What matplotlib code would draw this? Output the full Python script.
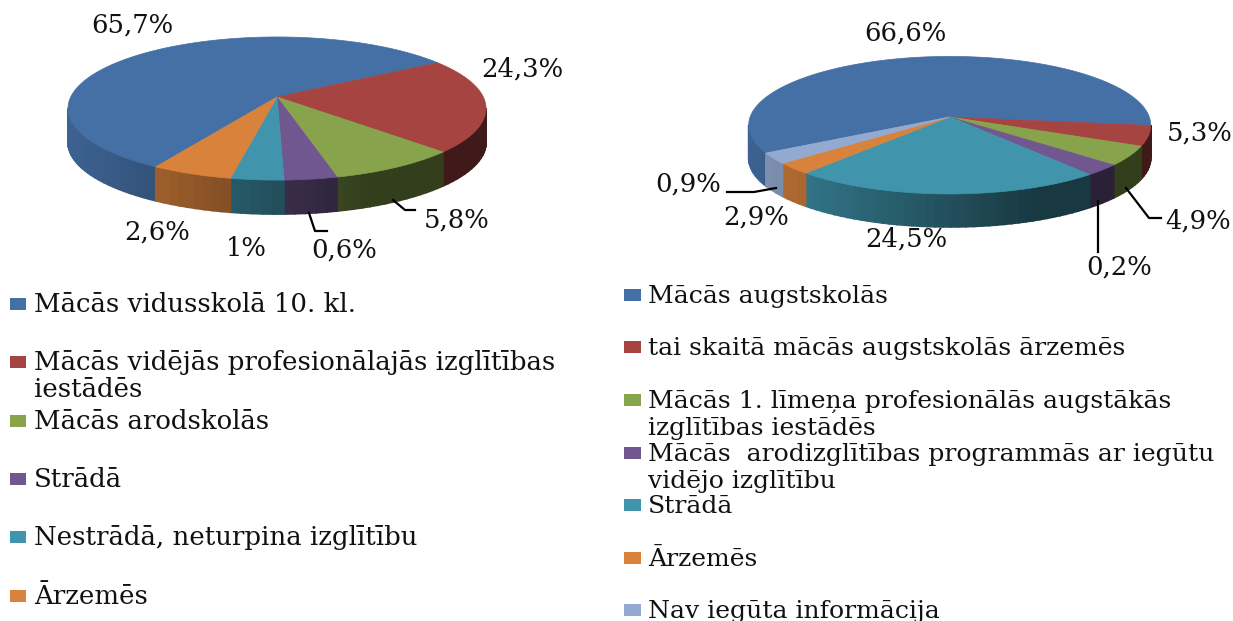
import numpy as np
from matplotlib import pyplot as plt
from matplotlib.colors import to_rgb

# shares as they are drawn in the picture (the printed labels do not match the slice sizes)
left_shares = [57.6, 21.3, 8.7, 3.5, 3.5, 5.4]
left_labels = ['65,7%', '24,3%', '5,8%', '0,6%', '1%', '2,6%']
left_legend = ['Mācās vidusskolā 10. kl.',
               'Mācās vidējās profesionālajās izglītības\niestādēs',
               'Mācās arodskolās',
               'Strādā',
               'Nestrādā, neturpina izglītību',
               'Ārzemēs']

right_shares = [60.3, 4.75, 4.6, 2.7, 22.4, 2.7, 2.55]
right_labels = ['66,6%', '5,3%', '4,9%', '0,2%', '24,5%', '2,9%', '0,9%']
right_legend = ['Mācās augstskolās',
                'tai skaitā mācās augstskolās ārzemēs',
                'Mācās 1. līmeņa profesionālās augstākās\nizglītības iestādēs',
                'Mācās  arodizglītības programmās ar iegūtu\nvidējo izglītību',
                'Strādā',
                'Ārzemēs',
                'Nav iegūta informācija']

colors = ['#4570A5', '#A64442', '#87A44D', '#71578F', '#4095AD', '#D8823C', '#93A9CF']

FONT = 'DejaVu Serif'
W, H = 1233, 621

fig = plt.figure(figsize=(W / 100, H / 100), dpi=100)
ax = fig.add_axes([0, 0, 1, 1])
ax.set_xlim(0, W)
ax.set_ylim(H, 0)
ax.axis('off')


def draw_pie(shares, start, cx, cy, sx, sy, k, depth):
    # flat disc seen in perspective, back edge shrunk by k
    def project(t):
        X, Y = np.cos(t), np.sin(t)
        w = 1 + k * Y
        return cx + sx * X / w, cy - sy * Y / w

    edges = np.radians(start - np.cumsum([0] + list(shares)) * 3.6)
    vis0 = np.pi + np.arcsin(k)
    vis1 = 2 * np.pi - np.arcsin(k)
    half = sx / np.sqrt(1 - k * k)

    # rim first, in small steps so it can be shaded left to right
    for i in range(len(shares)):
        a, b = edges[i], edges[i + 1]
        for off in (-2 * np.pi, 0, 2 * np.pi):
            lo, hi = max(b + off, vis0), min(a + off, vis1)
            if hi <= lo:
                continue
            steps = np.linspace(lo, hi, max(2, int((hi - lo) * 30)))
            for t0, t1 in zip(steps[:-1], steps[1:]):
                x0, y0 = project(t0)
                x1, y1 = project(t1)
                u = ((x0 + x1) / 2 - (cx - half)) / (2 * half)
                f = max(0.38, 0.88 - 0.7 * u)
                rgb = np.array(to_rgb(colors[i])) * f
                ax.fill([x0, x1, x1, x0], [y0, y1, y1 + depth, y0 + depth],
                        color=rgb, lw=1.2, zorder=2)

    # top face
    for i in range(len(shares)):
        t = np.linspace(edges[i], edges[i + 1], 200)
        x, y = project(t)
        ax.fill(np.r_[cx, x], np.r_[cy, y], color=colors[i], lw=0.5, zorder=3)


draw_pie(left_shares, 239.6, 277, 97, 206.3, 69.7, 0.161, 34)
draw_pie(right_shares, 210, 949.7, 117, 199.6, 67.8, 0.119, 33)

# data labels
left_pos = [(132, 25), (522, 69), (457, 220), (344, 250), (246, 248), (157, 232)]
right_pos = [(905, 33), (1200, 133), (1198, 221), (1119, 267), (906, 239), (756, 217), (688, 184)]
for labels, pos in ((left_labels, left_pos), (right_labels, right_pos)):
    for s, (x, y) in zip(labels, pos):
        ax.text(x, y, s, ha='center', va='center', fontsize=18.6, family=FONT, color='#111111', zorder=5)

# leader lines
leaders = [([393, 405, 415], [200, 210, 210]),
           ([309, 315, 327], [213, 231, 231]),
           ([727, 754, 776], [192, 192, 188]),
           ([1126, 1149, 1161], [188, 218, 218]),
           ([1098, 1098], [201, 252])]
for x, y in leaders:
    ax.plot(x, y, color='black', lw=1.6, zorder=4)


# legends, placed by hand because the spacing is uneven
def draw_legend(entries, ys, box_x, box_w, text_x, size):
    for i, (s, y) in enumerate(zip(entries, ys)):
        ax.fill([box_x, box_x + box_w, box_x + box_w, box_x],
                [y - 6, y - 6, y + 6, y + 6], color=colors[i], lw=0)
        ax.text(text_x, y + 8, s.split('\n')[0], ha='left', va='baseline',
                fontsize=size, family=FONT, color='#111111')
        if '\n' in s:
            ax.text(text_x, y + 35, s.split('\n')[1], ha='left', va='baseline',
                    fontsize=size, family=FONT, color='#111111')


draw_legend(left_legend, [304, 362, 421, 479, 537, 596], 10, 16, 34, 18.7)
draw_legend(right_legend, [295, 347, 400, 453, 505, 558, 610], 624, 17, 648, 18.1)

plt.savefig('out.png', dpi=100)
